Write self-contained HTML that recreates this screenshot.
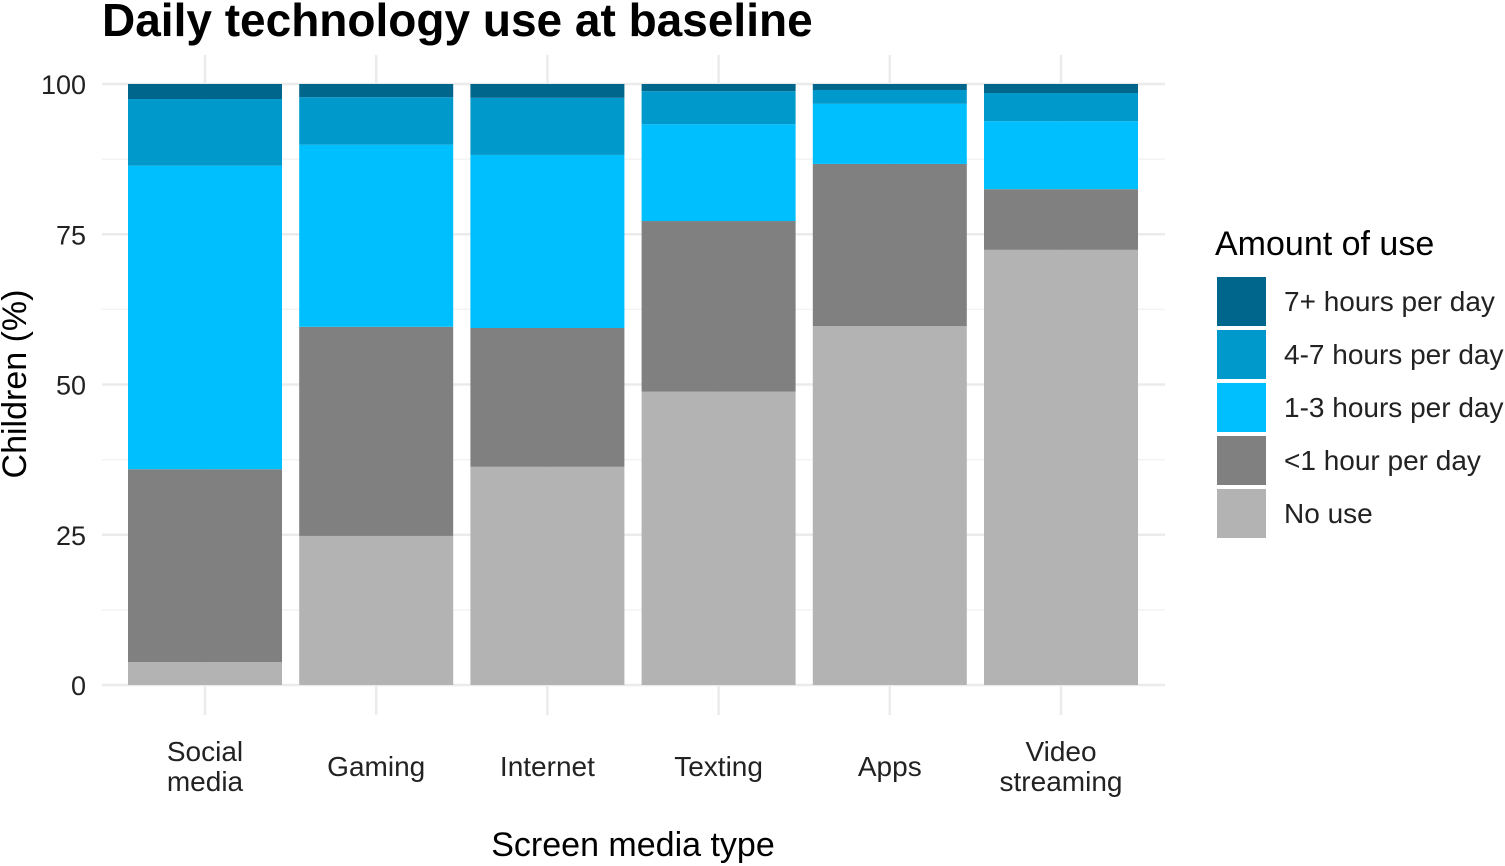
<!DOCTYPE html>
<html><head><meta charset="utf-8"><style>
body{margin:0;background:#fff}
svg{display:block;font-family:"Liberation Sans",Arial,sans-serif}
</style></head><body>
<svg id="chart" width="1505" height="866" viewBox="0 0 1505 866" xmlns="http://www.w3.org/2000/svg">
<rect width="1505" height="866" fill="#fff"/>
<text x="102" y="36" font-size="46" font-weight="bold">Daily technology use at baseline</text>
<g id="grid"></g>
<g id="bars"></g>
<g id="axes"></g>
<text transform="translate(26,384) rotate(-90)" text-anchor="middle" font-size="34">Children (%)</text>
<text x="633" y="856" text-anchor="middle" font-size="34">Screen media type</text>
<g id="legend"></g>
</svg>
<script>
const categories = [["Social","media"],["Gaming"],["Internet"],["Texting"],["Apps"],["Video","streaming"]];
const seriesNames = ["No use","<1 hour per day","1-3 hours per day","4-7 hours per day","7+ hours per day"];
const noUse   = [3.8, 24.8, 36.3, 48.8, 59.7, 72.4];
const lessOne = [32.1, 34.8, 23.1, 28.4, 27.0, 10.1];
const oneThree= [50.5, 30.3, 28.8, 16.1, 10.0, 11.3];
const fourSeven=[11.1, 7.9, 9.5, 5.5, 2.3, 4.7];
const sevenPlus=[2.5, 2.2, 2.3, 1.2, 1.0, 1.5];
const yTicks = [0,25,50,75,100];
const colors = ["#b3b3b3","#808080","#00bfff","#0099cc","#00668c"];
const series = [noUse,lessOne,oneThree,fourSeven,sevenPlus];
const NS="http://www.w3.org/2000/svg";
const y = v => 685 - v*6.01;
const xc = i => 205 + i*171.2;
const bw = 154;
function mk(tag, attrs, parent){const e=document.createElementNS(NS,tag);for(const k in attrs)e.setAttribute(k,attrs[k]);parent.appendChild(e);return e;}
const grid=document.getElementById('grid'), bars=document.getElementById('bars'), axes=document.getElementById('axes'), legend=document.getElementById('legend');
for(let t=12.5;t<100;t+=25){const l=mk('line',{x1:102,x2:1165,y1:y(t),y2:y(t),stroke:'#f3f3f3','stroke-width':1.5},grid);

}
yTicks.forEach(t=>{const l=mk('line',{x1:102,x2:1165,y1:y(t),y2:y(t),stroke:'#ebebeb','stroke-width':2.5},grid);


const tx=mk('text',{x:86,y:y(t)+10,'text-anchor':'end','font-size':27,fill:'#222'},axes);tx.textContent=t;

});
categories.forEach((c,i)=>{const l=mk('line',{x1:xc(i),x2:xc(i),y1:55,y2:715,stroke:'#ebebeb','stroke-width':2.5},grid);


let cum=0;
series.forEach((s,k)=>{const v=s[i];const r=mk('rect',{x:xc(i)-bw/2,y:y(cum+v),width:bw,height:v*6.01,fill:colors[k]},bars);


cum+=v;});
const startY = c.length===2 ? 761 : 776;
c.forEach((line,j)=>{const tx=mk('text',{x:xc(i),y:startY+j*30,'text-anchor':'middle','font-size':28,fill:'#222'},axes);tx.textContent=line;

});});
const lt=mk('text',{x:1215,y:255,'font-size':34},legend);lt.textContent='Amount of use';


for(let k=4;k>=0;k--){const row=4-k;const yy=277+row*53;
const r=mk('rect',{x:1217,y:yy,width:49,height:49,fill:colors[k]},legend);


const tx=mk('text',{x:1284,y:yy+34,'font-size':28,fill:'#222'},legend);tx.textContent=seriesNames[k];

}
</script>
</body></html>
